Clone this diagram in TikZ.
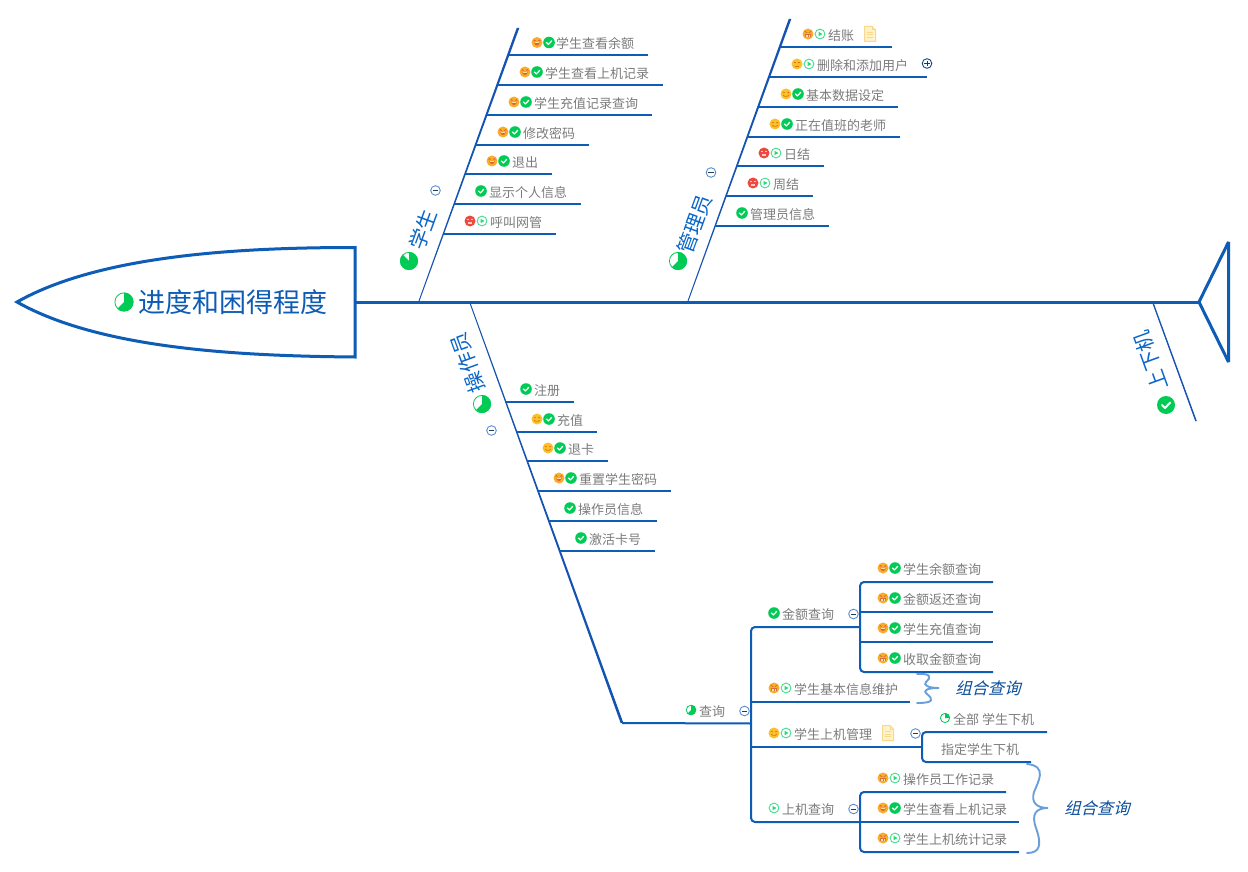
\documentclass[tikz,border=0pt]{standalone}
\usepackage{fontspec}
\setmainfont{Noto Sans CJK SC}
\usetikzlibrary{calc}
\definecolor{line}{HTML}{0D5CB6}
\definecolor{spine}{HTML}{1453B2}
\definecolor{lab}{HTML}{0B66C8}
\definecolor{txt}{HTML}{7C7C7C}
\definecolor{grn}{HTML}{00CC55}
\definecolor{pgrn}{HTML}{45DE90}
\definecolor{org}{HTML}{F9AE2A}
\definecolor{yel}{HTML}{FBC02D}
\definecolor{redf}{HTML}{EC4A40}
\definecolor{wave}{HTML}{6A9FDA}
\definecolor{minusc}{HTML}{5A8ED2}
\definecolor{mouth}{HTML}{E2603C}
\definecolor{angry}{HTML}{D9703A}
\definecolor{docline}{HTML}{FAD88A}
\definecolor{docfill}{HTML}{FFF3CC}
\tikzset{
  branch/.style={draw=line,line width=2pt},
  heavy/.style={draw=line,line width=3pt,line join=bevel},
  leaftext/.style={anchor=west,inner sep=0pt,text=txt,font=\fontsize{13}{13}\selectfont},
  boughttext/.style={inner sep=0pt,text=lab,font=\fontsize{20.5}{20.5}\selectfont},
  grouptext/.style={inner sep=0pt,text=line!85!black,xslant=0.25,font=\fontsize{16.3}{16.3}\selectfont},
  wavy/.style={draw=wave,line width=1.9pt,line cap=round},
}
\def\lfoff{11.3}
\newcommand{\tapr}[4]{\fill[spine] ($(#1)+(-#3,0)$) -- ($(#1)+(#3,0)$) -- ($(#2)+(#4,0)$) -- ($(#2)+(-#4,0)$) -- cycle;}
\newcommand{\lf}[6]{\coordinate (#1-a) at (#2,#4); \coordinate (#1-b) at (#3,#4);
  \node[leaftext] (#1) at (#5,#4-\lfoff) {#6};
  \draw[branch] (#1-a) -- (#1-b);}
\newcommand{\txtn}[4]{\node[leaftext] (#1) at (#2,#3) {#4};}
\newenvironment{ic}[2]{\begin{scope}[shift={(#1,#2)},x=1pt,y=1pt]}{\end{scope}}
\newcommand{\icC}[3][5.8]{\begin{ic}{#2}{#3}\fill[grn] (0,0) circle (#1);
  \draw[white,line width=.22*#1 pt,line cap=round,line join=round] (-.45*#1,0) -- (-.1*#1,-.33*#1) -- (.45*#1,.27*#1);\end{ic}}
\newcommand{\icP}[2]{\begin{ic}{#1}{#2}\draw[pgrn,fill=white,line width=.9pt] (0,0) circle (4.9);
  \fill[pgrn!60!grn] (-1.5,2.2) -- (2.4,0) -- (-1.5,-2.2) -- cycle;\end{ic}}
\newcommand{\icT}[2]{\begin{ic}{#1}{#2}\fill[org] (0,0) circle (5.5);
  \draw[mouth,line width=.8pt] (-3.4,1.5) arc (180:0:1 and .9) (1.4,1.5) arc (180:0:1 and .9);
  \fill[mouth] (-2.7,.2) arc (180:360:2.7 and 3.2) -- cycle;
  \fill[white!50!yel] (-1.7,.2) rectangle (1.7,-.5);\end{ic}}
\newcommand{\icA}[2]{\begin{ic}{#1}{#2}\fill[org] (0,0) circle (5.5);
  \draw[angry,line width=.9pt] (-3.4,2.8) -- (-.9,1.2) (3.4,2.8) -- (.9,1.2);
  \fill[angry] (-3,-.3) rectangle (3,-3.4); \fill[white!60!yel] (-2.1,-1) rectangle (2.1,-2.6);
  \draw[angry,line width=.5pt] (0,-1) -- (0,-2.6);\end{ic}}
\newcommand{\icS}[2]{\begin{ic}{#1}{#2}\fill[yel] (0,0) circle (5.5);
  \draw[orange!90!black,line width=.6pt] (-3.2,1) arc (180:0:1 and .8) (1.2,1) arc (180:0:1 and .8);
  \draw[orange!90!black,line width=.7pt] (-2.8,-1.2) arc (200:340:3 and 2);\end{ic}}
\newcommand{\icN}[2]{\begin{ic}{#1}{#2}\fill[yel] (0,0) circle (5.5);
  \draw[orange!90!black,line width=.7pt] (-3.4,1.2) -- (-1,1.2) (1,1.2) -- (3.4,1.2) (-2.2,-2) -- (2.2,-2);\end{ic}}
\newcommand{\icR}[2]{\begin{ic}{#1}{#2}\fill[redf] (0,0) circle (5.5);
  \fill[white!70!redf] (-2.9,1.8) rectangle (-1,.6); \fill[white!70!redf] (1,1.8) rectangle (2.9,.6);
  \fill[white!70!redf] (-1.7,-.6) rectangle (1.7,-3);\end{ic}}
\newcommand{\icM}[2]{\begin{ic}{#1}{#2}\draw[minusc,fill=white,line width=.9pt] (0,0) circle (4.8);
  \draw[black!60!minusc,line width=.8pt] (-2.6,0) -- (2.6,0);\end{ic}}
\newcommand{\icPlus}[2]{\begin{ic}{#1}{#2}\draw[line!80!black,fill=white,line width=.9pt] (0,0) circle (4.8);
  \draw[black!80,line width=.8pt] (-2.8,0) -- (2.8,0) (0,-2.8) -- (0,2.8);\end{ic}}
\newcommand{\icPie}[4]{\begin{ic}{#1}{#2}\draw[grn,fill=white,line width=.8pt] (0,0) circle (#3-.4);
  \fill[grn] (0,0) -- (90:#3) arc (90:#4:#3) -- cycle;\end{ic}}
\newcommand{\icD}[2]{\begin{ic}{#1}{#2}\draw[docline,fill=docfill,line width=1pt,line join=round] (-5.5,7.5) -- (2,7.5) -- (5.5,4) -- (5.5,-7.5) -- (-5.5,-7.5) -- cycle;
  \draw[docline,line width=1pt] (2,7.5) -- (2,4) -- (5.5,4) (-3.2,1.8) -- (3.2,1.8) (-3.2,-1) -- (3.2,-1) (-3.2,-3.8) -- (3.2,-3.8);\end{ic}}
\begin{document}
\begin{tikzpicture}[x=1pt,y=-1pt]
\useasboundingbox (0,0) rectangle (1248,872);
\fill[white] (0,0) rectangle (1248,872);
% head and tail
\coordinate (headtop) at (355,247.5); \coordinate (headbot) at (355,357); \coordinate (headtip) at (17,302);
\coordinate (tailapex) at (1199,302); \coordinate (tailtop) at (1228.5,242); \coordinate (tailbot) at (1228.5,362);
\draw[heavy,line join=miter] (headtip) .. controls (100,255) and (240,247.5) .. (headtop) -- (headbot) .. controls (240,356) and (100,349) .. (headtip) -- cycle;
\draw[heavy] (tailapex) -- (tailtop) -- (tailbot) -- cycle;
\draw[heavy] (headtop |- headtip) -- (tailapex);
\node[inner sep=0pt,anchor=west,text=line,font=\fontsize{27}{27}\selectfont] (title) at (138,302) {进度和困得程度};
\icPie{124}{302}{9.5}{-135}
% student
\coordinate (sa) at (419,301); \coordinate (sb) at (518,28);
\tapr{sa}{sb}{.5}{1.3}
\node[boughttext,rotate=70] (stu) at (423,230) {学生};
\icPie{409}{261}{9}{-225}
\icM{435.5}{190.5}
\lf{s1}{509}{648}{54.7}{556}{学生查看余额} \icT{537}{42.5} \icC{549}{42.5}
\lf{s2}{498}{663}{85}{545}{学生查看上机记录} \icT{525}{72} \icC{537}{72}
\lf{s3}{487}{652}{115}{534}{学生充值记录查询} \icT{514}{102} \icC{526}{102}
\lf{s4}{476}{589}{145}{523}{修改密码} \icT{503}{132} \icC{515}{132}
\lf{s5}{465}{552}{174}{512}{退出} \icT{492}{161} \icC{504}{161}
\lf{s6}{454}{581}{204}{489}{显示个人信息} \icC{481}{191}
\lf{s7}{443}{556}{233.7}{490}{呼叫网管} \icR{470}{221} \icP{482}{221}
% manager
\coordinate (ma) at (688,301); \coordinate (mb) at (790,19);
\tapr{ma}{mb}{.5}{1.3}
\node[boughttext,rotate=70] (mgr) at (695,224) {管理员};
\icPie{678}{261}{9}{-135}
\icM{711}{172.5}
\lf{m1}{781}{892}{46.7}{828}{结账} \icA{808}{34} \icP{820}{34} \icD{870}{34}
\lf{m2}{770}{927}{76.7}{817}{删除和添加用户} \icN{797}{64} \icP{809}{64} \icPlus{927}{63.5}
\lf{m3}{759}{898}{107}{806}{基本数据设定} \icS{786}{94} \icC{798}{94}
\lf{m4}{748}{900}{136.7}{795}{正在值班的老师} \icS{775}{124} \icC{787}{124}
\lf{m5}{737}{824}{165.7}{784}{日结} \icR{764}{153} \icP{776}{153}
\lf{m6}{726}{813}{195.7}{773}{周结} \icR{753}{183} \icP{765}{183}
\lf{m7}{715}{829}{225.7}{750}{管理员信息} \icC{742}{213}
% logout
\coordinate (ua) at (1153,303); \coordinate (ub) at (1196,421);
\tapr{ua}{ub}{.7}{.8}
\node[boughttext,rotate=110] (upd) at (1151,361) {上下机};
\icC[9]{1166}{405}
% operator
\coordinate (oa) at (470,303); \coordinate (ob) at (622,723);
\tapr{oa}{ob}{.5}{1.4}
\node[boughttext,rotate=110] (opr) at (468,363) {操作员};
\icPie{482}{404}{9}{-135}
\icM{491.5}{430.5}
\def\lfoff{11.1}
\lf{o1}{505}{574}{401.7}{534}{注册} \icC{526}{389}
\lf{o2}{516}{597}{431.7}{557}{充值} \icS{537}{419} \icC{549}{419}
\lf{o3}{527}{608}{460.7}{568}{退卡} \icS{548}{448} \icC{560}{448}
\lf{o4}{538}{671}{490.7}{579}{重置学生密码} \icT{559}{478} \icC{571}{478}
\lf{o5}{549}{657}{520.7}{578}{操作员信息} \icC{570}{508}
\lf{o6}{560}{655}{550.7}{589}{激活卡号} \icC{581}{538}
% query
\coordinate (qa) at (751,723.5);
\draw[branch] (ob) -- (qa);
\node[leaftext] (q) at (699,711.5) {查询};
\icPie{691}{710}{5.2}{-135}
\coordinate (q1a) at (860,627); \coordinate (q4a) at (860,822);
\draw[branch,rounded corners=4pt] (q1a) -- (751,627) -- (751,822) -- (q4a);
\icM{744.5}{711}
\txtn{q1}{782}{614.5}{金额查询} \icC{774}{613} \icM{853.5}{614}
% money
\def\lfoff{12.4}
\coordinate (k1) at (993,582); \coordinate (k4) at (993,672);
\draw[branch,rounded corners=4pt] (k1) -- (860,582) -- (860,672) -- (k4);
\node[leaftext] (k1t) at (903,569.5) {学生余额查询}; \icT{883}{568} \icC{895}{568}
\lf{k2}{860}{993}{611.7}{903}{金额返还查询} \icA{883}{598} \icC{895}{598}
\lf{k3}{860}{993}{641.7}{903}{学生充值查询} \icT{883}{628} \icC{895}{628}
\node[leaftext] (k4t) at (903,659.5) {收取金额查询}; \icA{883}{658} \icC{895}{658}
% maintain
\lf{q2}{751}{910}{702}{794}{学生基本信息维护} \icA{774}{688} \icP{786}{688}
\coordinate (w1a) at (917,674); \coordinate (w1t) at (939,688); \coordinate (w1b) at (917,703);
\draw[wavy] (w1a) .. controls (932,673) and (931,678) .. (926,682) .. controls (923,685) and (928,688) .. (w1t) .. controls (928,688) and (922,690) .. (927,694) .. controls (933,699) and (935,703) .. (w1b);
\node[grouptext] (g1) at (989.5,688) {组合查询};
% online manage
\lf{q3}{751}{922}{746.7}{794}{学生上机管理} \icS{774}{733} \icP{786}{733} \icD{888}{733} \icM{915.5}{733.5}
\coordinate (d1) at (1047,732); \coordinate (d2) at (1031,762);
\draw[branch,rounded corners=4pt] (d1) -- (922,732) -- (922,762) -- (d2);
\txtn{d1t}{953}{719.5}{全部 学生下机} \icPie{945}{718}{5}{0}
\txtn{d2t}{941}{749.5}{指定学生下机}
% online query
\txtn{q4}{782}{809.5}{上机查询} \icP{774}{808} \icM{853.5}{809}
\coordinate (h1) at (1006,792); \coordinate (h3) at (1019,852);
\draw[branch,rounded corners=4pt] (h1) -- (860,792) -- (860,852) -- (h3);
\node[leaftext] (h1t) at (903,779.5) {操作员工作记录}; \icA{883}{778} \icP{895}{778}
\lf{h2}{860}{1019}{821.7}{903}{学生查看上机记录} \icT{883}{808} \icC{895}{808}
\node[leaftext] (h3t) at (903,839.5) {学生上机统计记录}; \icA{883}{838} \icP{895}{838}
\coordinate (w2a) at (1027,764); \coordinate (w2t) at (1048,808); \coordinate (w2b) at (1027,853);
\draw[wavy] (w2a) .. controls (1048,766) and (1038,782) .. (1034,792) .. controls (1031,802) and (1036,808) .. (w2t) .. controls (1036,808) and (1031,814) .. (1036,828) .. controls (1042,845) and (1040,853) .. (w2b);
\node[grouptext] (g2) at (1098.5,808) {组合查询};
\end{tikzpicture}
\end{document}
